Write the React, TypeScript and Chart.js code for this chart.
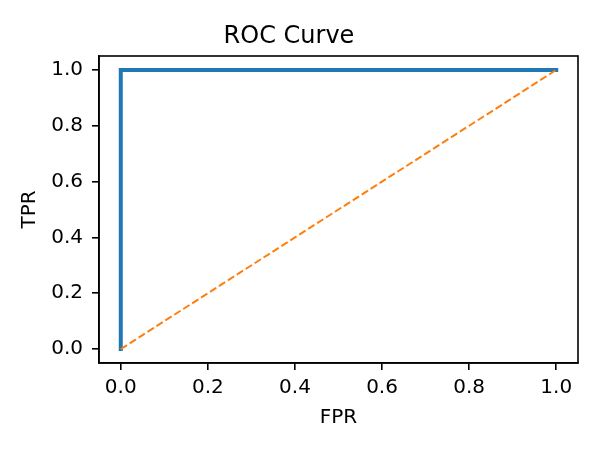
import { useEffect, useRef } from 'react'
import { Chart, registerables } from 'chart.js'

Chart.register(...registerables)

// ROC curve points
const fpr = [0, 0, 1]
const tpr = [0, 1, 1]

// chance line
const chanceX = [0, 1]
const chanceY = [0, 1]

const tickValues = [0, 0.2, 0.4, 0.6, 0.8, 1.0]

const FONT = 'DejaVu Sans'

// draws the top and right spines so the plot gets a full box
const frameBox = {
  id: 'frameBox',
  afterDatasetsDraw(chart: any) {
    const { ctx, chartArea } = chart
    ctx.save()
    ctx.strokeStyle = '#000'
    ctx.lineWidth = 1.6
    ctx.strokeRect(chartArea.left, chartArea.top, chartArea.right - chartArea.left, chartArea.bottom - chartArea.top)
    ctx.restore()
  }
}

const App = () => {
  const canvasRef = useRef<HTMLCanvasElement>(null)

  useEffect(() => {
    if (!canvasRef.current) return
    document.body.style.margin = '0'

    const chart = new Chart(canvasRef.current, {
      type: 'scatter',
      data: {
        datasets: [
          {
            label: 'chance',
            data: chanceX.map((x, i) => ({ x, y: chanceY[i] })),
            showLine: true,
            borderColor: '#ff7f0e',
            borderWidth: 2,
            borderDash: [7.4, 3.2],
            borderCapStyle: 'butt',
            pointRadius: 0,
            order: 0
          },
          {
            label: 'ROC',
            data: fpr.map((x, i) => ({ x, y: tpr[i] })),
            showLine: true,
            borderColor: '#1f77b4',
            borderWidth: 4,
            borderCapStyle: 'square',
            borderJoinStyle: 'miter',
            pointRadius: 0,
            order: 1
          }
        ]
      },
      options: {
        responsive: false,
        animation: false,
        events: [],
        layout: { padding: { left: 0, right: 22, top: 0, bottom: 0 } },
        plugins: {
          legend: { display: false },
          tooltip: { enabled: false },
          title: {
            display: true,
            text: 'ROC Curve',
            color: '#000',
            font: { family: FONT, size: 24, weight: 'normal' },
            padding: { top: 22.5, bottom: 4.7 }
          }
        },
        scales: {
          x: {
            type: 'linear',
            min: -0.05,
            max: 1.05,
            afterBuildTicks: (scale: any) => {
              scale.ticks = tickValues.map(value => ({ value }))
            },
            afterFit: (scale: any) => {
              scale.height = 87
            },
            grid: { drawOnChartArea: false, drawTicks: true, tickLength: 7, color: '#000', lineWidth: 1.6 },
            border: { display: true, color: '#000', width: 1.6 },
            ticks: {
              color: '#000',
              font: { family: FONT, size: 20 },
              padding: 6,
              maxRotation: 0,
              callback: (v: any) => Number(v).toFixed(1)
            },
            title: {
              display: true,
              text: 'FPR',
              color: '#000',
              font: { family: FONT, size: 20 },
              padding: { top: 0, bottom: 20 }
            }
          },
          y: {
            type: 'linear',
            min: -0.05,
            max: 1.05,
            afterBuildTicks: (scale: any) => {
              scale.ticks = tickValues.map(value => ({ value }))
            },
            afterFit: (scale: any) => {
              scale.width = 99
            },
            grid: { drawOnChartArea: false, drawTicks: true, tickLength: 7, color: '#000', lineWidth: 1.6 },
            border: { display: true, color: '#000', width: 1.6 },
            ticks: {
              color: '#000',
              font: { family: FONT, size: 20 },
              padding: 9,
              callback: (v: any) => Number(v).toFixed(1)
            },
            title: {
              display: true,
              text: 'TPR',
              color: '#000',
              font: { family: FONT, size: 20 },
              padding: { top: 17.5, bottom: 0 }
            }
          }
        }
      },
      plugins: [frameBox]
    })

    return () => {
      chart.destroy()
    }
  }, [])

  return (
    <div style={{ width: 600, height: 450, background: '#fff' }}>
      <canvas ref={canvasRef} width={600} height={450}></canvas>
    </div>
  )
}

export default App
